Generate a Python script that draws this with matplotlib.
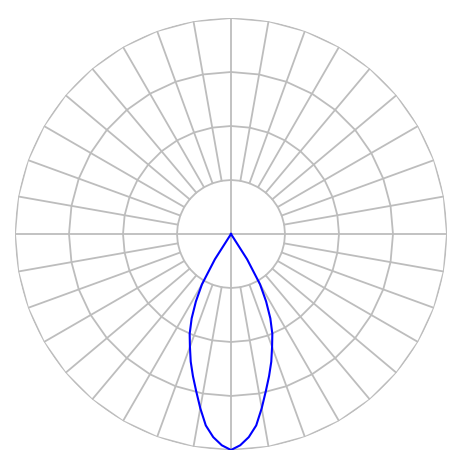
import numpy as np
import matplotlib
matplotlib.use("Agg")
import matplotlib.pyplot as plt

# Relative luminous intensity vs. angle from nadir (degrees), symmetric curve
gamma_deg = [0, 2.5, 5, 7.5, 10, 12.5, 15, 17.5, 20, 22.5, 25, 27.5, 30, 32.5, 35]
intensity = [1.0, 0.979, 0.944, 0.894, 0.819, 0.745, 0.681, 0.620, 0.556,
             0.500, 0.431, 0.352, 0.269, 0.139, 0.0]

ring_levels = [0.25, 0.5, 0.75, 1.0]
spoke_step = 10
r_max = 1.0

grid_color = "#bdbdbd"
curve_color = "#0000ff"

fig = plt.figure(figsize=(4.65, 4.65), dpi=100)
ax = fig.add_axes([15 / 465, 15 / 465, 432 / 465, 432 / 465], projection="polar")
ax.set_theta_zero_location("S")
ax.set_theta_direction(1)
ax.set_ylim(0, r_max)
ax.grid(False)
ax.set_xticks([])
ax.set_yticks([])
ax.spines["polar"].set_visible(False)

# polygonal rings
spoke_angles = np.deg2rad(np.arange(0, 361, spoke_step))
for lev in ring_levels:
    ax.plot(spoke_angles, np.full_like(spoke_angles, lev), color=grid_color,
            lw=1.3, zorder=1)

# spokes
for a in np.arange(0, 360, spoke_step):
    r0 = 0.0 if a % 90 == 0 else ring_levels[0]
    ax.plot([np.deg2rad(a)] * 2, [r0, r_max], color=grid_color, lw=1.3, zorder=1)

# intensity curve (mirrored)
g = np.array(gamma_deg)
v = np.array(intensity)
theta = np.deg2rad(np.concatenate([-g[::-1], g[1:]]))
rad = np.concatenate([v[::-1], v[1:]])
ax.plot(theta, rad, color=curve_color, lw=1.5, zorder=3)

fig.savefig("out.png", dpi=100)
